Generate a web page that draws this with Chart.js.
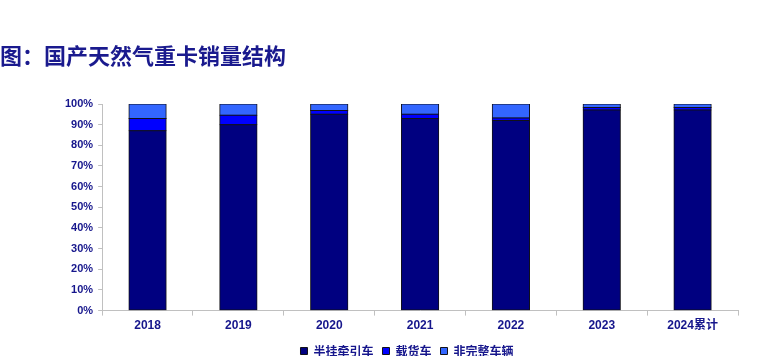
<!DOCTYPE html>
<html>
<head>
<meta charset="utf-8">
<script src="https://cdn.jsdelivr.net/npm/chart.js@4/dist/chart.umd.min.js"></script>
<style>
html,body{margin:0;padding:0;background:#fff;}
#wrap{width:777px;height:356px;position:relative;}
</style>
</head>
<body>
<div id="wrap"><canvas id="c" width="777" height="356"></canvas></div>
<script>
const categories = ['2018','2019','2020','2021','2022','2023','2024累计'];
const semiTractor = [87, 90, 95, 93, 92, 97.1, 97.1];
const cargoTruck  = [6, 4.5, 1.8, 2, 1.2, 1.2, 1.2];
const incomplete  = [7, 5.5, 3.2, 5, 6.8, 1.7, 1.7];
const seriesNames = ['半挂牵引车','载货车','非完整车辆'];
const yTicks = [0,10,20,30,40,50,60,70,80,90,100];
const titleText = '图：国产天然气重卡销量结构';

const textColor = '#16168c';
const latin = '"Liberation Sans", Arial, "Noto Sans CJK SC", sans-serif';
const cjk = '"Noto Sans CJK SC", "Liberation Sans", sans-serif';

const shiftPlugin = {
  id: 'shiftBlocks',
  afterLayout(chart) {
    const t = chart.titleBlock;
    if (t) { const w = t.right - t.left; t.left = 0; t.right = w; }
    const l = chart.legend;
    if (l) { l.left += 8; l.right += 8; }
  }
};

new Chart(document.getElementById('c'), {
  type: 'bar',
  data: {
    labels: categories,
    datasets: [
      {label: seriesNames[0], data: semiTractor, backgroundColor: '#000080', borderColor: '#111118', borderWidth: 1, borderSkipped: false, inflateAmount: 0.5},
      {label: seriesNames[1], data: cargoTruck, backgroundColor: '#0000ff', borderColor: '#111118', borderWidth: 1, borderSkipped: false, inflateAmount: 0.5},
      {label: seriesNames[2], data: incomplete, backgroundColor: '#3366ff', borderColor: '#111118', borderWidth: 1, borderSkipped: false, inflateAmount: 0.5}
    ]
  },
  options: {
    responsive: false,
    animation: false,
    devicePixelRatio: 1,
    layout: {padding: {left: 60, right: 39, top: 0, bottom: -11}},
    datasets: {bar: {categoryPercentage: 1, barPercentage: 0.41}},
    scales: {
      x: {
        stacked: true,
        border: {display: true, color: '#c0c0c0', width: 1},
        grid: {display: true, drawOnChartArea: false, color: '#c0c0c0', tickLength: 5, offset: true},
        ticks: {color: textColor, font: {family: latin, size: 12, weight: 'bold'}, padding: 3, maxRotation: 0}
      },
      y: {
        stacked: true,
        min: 0, max: 100,
        afterBuildTicks: (s) => { s.ticks = yTicks.map(v => ({value: v})); },
        border: {display: true, color: '#c0c0c0', width: 1},
        grid: {display: true, drawOnChartArea: false, color: '#c0c0c0', tickLength: 4},
        ticks: {color: textColor, font: {family: latin, size: 11, weight: 'bold'}, padding: 5, callback: v => v + '%'}
      }
    },
    plugins: {
      title: {
        display: true, text: titleText, align: 'start',
        color: '#1a1a8e',
        font: {family: cjk, size: 22, weight: 'bold'},
        padding: {top: 42, bottom: 35.6}
      },
      legend: {
        position: 'bottom',
        labels: {
          color: textColor,
          font: {family: cjk, size: 12, weight: 'bold'},
          boxWidth: 7, boxHeight: 7, padding: 9
        }
      },
      tooltip: {enabled: false}
    }
  },
  plugins: [shiftPlugin]
});
</script>
</body>
</html>
